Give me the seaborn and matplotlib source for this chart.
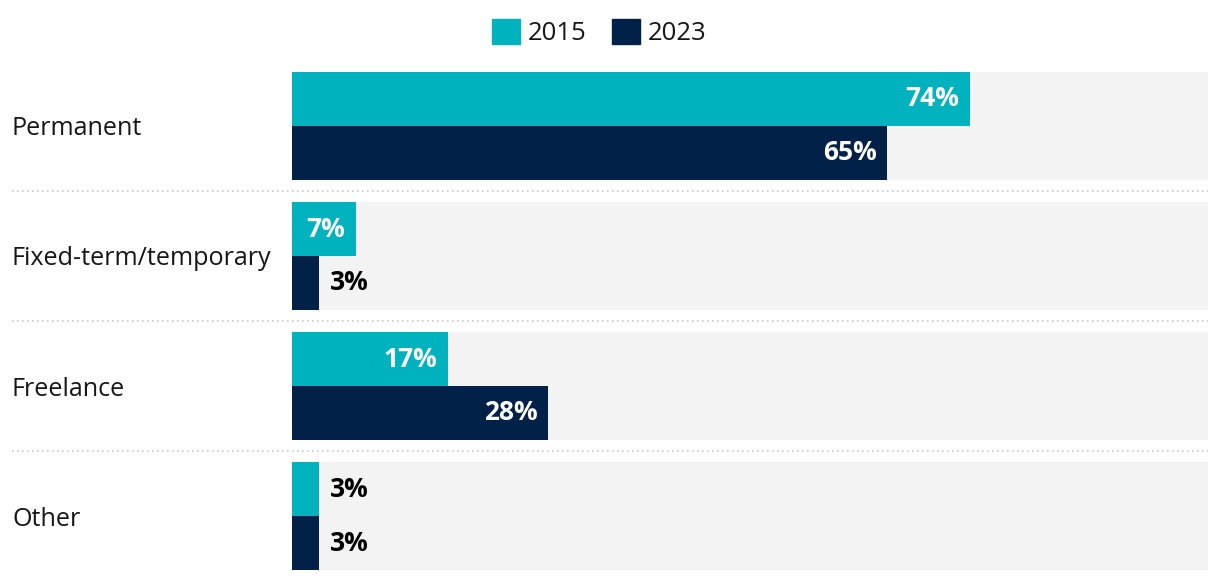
import matplotlib
matplotlib.use('Agg')
from matplotlib import pyplot as plt
from matplotlib.patches import Patch
import seaborn as sns
import pandas as pd

categories = ['Permanent', 'Fixed-term/temporary', 'Freelance', 'Other']
years = ['2015', '2023']
share_2015 = [74, 7, 17, 3]
share_2023 = [65, 3, 28, 3]

teal = '#00B1BE'
navy = '#012148'
bg_grey = '#F3F3F3'
ink = '#161616'

df = pd.DataFrame({
    'type': categories * 2,
    'year': [years[0]] * 4 + [years[1]] * 4,
    'share': share_2015 + share_2023,
})

sns.set_theme(style='white')
plt.rcParams['font.family'] = ['Open Sans', 'DejaVu Sans']
plt.rcParams['text.color'] = ink

fig = plt.figure(figsize=(12.2, 5.8), dpi=100)
ax = fig.add_axes([292 / 1220, 10 / 580, 916 / 1220, 498 / 580])

# full-width grey tracks behind each group
ax.barh(range(len(categories)), [100] * len(categories), height=0.83,
        color=bg_grey, linewidth=0, zorder=0)

sns.barplot(data=df, y='type', x='share', hue='year', order=categories,
            hue_order=years, palette=[teal, navy], width=0.83, orient='h',
            saturation=1, linewidth=0, ax=ax, legend=False, zorder=2)

ax.set_xlim(0, 100)
ax.set_ylim(len(categories) - 1 + 0.415, -0.415)

# value labels: inside (white) when they fit, else outside (black)
for container in ax.containers[1:]:
    for bar in container:
        w = bar.get_width()
        yc = bar.get_y() + bar.get_height() / 2
        txt = f'{w:.0f}%'
        if w >= 6:
            ax.annotate(txt, (w, yc), xytext=(-11, 0), textcoords='offset pixels',
                        ha='right', va='center', color='white', fontsize=19,
                        fontweight='bold', zorder=3)
        else:
            ax.annotate(txt, (w, yc), xytext=(10, 0), textcoords='offset pixels',
                        ha='left', va='center', color='black', fontsize=19,
                        fontweight='bold', zorder=3)

# dotted separators between groups, reaching under the labels
for i in range(len(categories) - 1):
    ax.plot([-0.3057, 1.0], [i + 0.5, i + 0.5], transform=ax.get_yaxis_transform(),
            color='#C8C8C8', linestyle=(0, (1, 2)), linewidth=1.2, clip_on=False)

ax.set_yticks(range(len(categories)))
ax.set_yticklabels(categories, fontsize=18.1, ha='left', color=ink)
ax.tick_params(axis='y', length=0, pad=280 * 0.72)
ax.set_xticks([])
ax.set_xlabel('')
ax.set_ylabel('')
for s in ax.spines.values():
    s.set_visible(False)

handles = [Patch(color=teal, label=years[0]), Patch(color=navy, label=years[1])]
fig.legend(handles=handles, loc='upper center', bbox_to_anchor=(0.491, 1.0),
           ncol=2, frameon=False, fontsize=18.5, handlelength=1.1, handleheight=1.1,
           handletextpad=0.3, columnspacing=1.0, borderaxespad=0.35)

fig.savefig('out.png', dpi=100)
